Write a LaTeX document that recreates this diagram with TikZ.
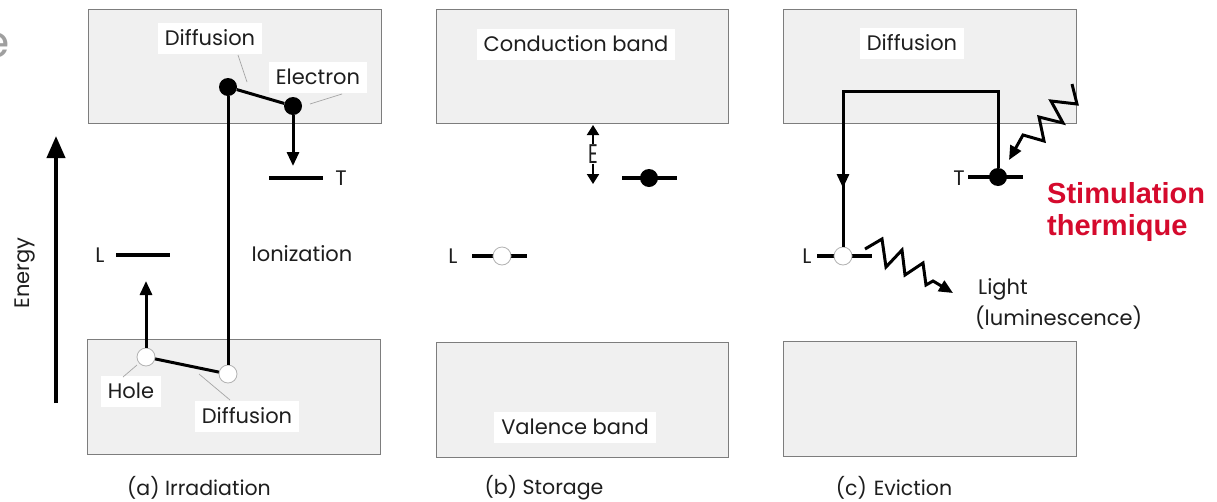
\documentclass[tikz,border=0pt]{standalone}
\usepackage{fontspec}
\setmainfont{Poppins}
\newfontfamily\redfont{Liberation Sans}
\usetikzlibrary{arrows.meta}
\definecolor{bandfill}{RGB}{240,240,240}
\definecolor{bandline}{RGB}{125,125,125}
\definecolor{txt}{RGB}{30,30,30}
\definecolor{stimred}{RGB}{213,10,45}
\begin{document}
\begin{tikzpicture}[x=1pt,y=-1pt,
  band/.style={draw=bandline, fill=bandfill, line width=1pt},
  lbl/.style={font=\fontsize{21}{25}\selectfont, text=txt, inner sep=0pt},
  captxt/.style={font=\fontsize{20.5}{24}\selectfont, text=txt, inner sep=0pt},
  wlbl/.style={lbl, fill=white, minimum height=31pt, inner xsep=7pt},
  elec/.style={circle, fill=black, minimum size=18pt, inner sep=0pt},
  hole/.style={circle, fill=white, draw=gray!60, line width=0.8pt, minimum size=18pt, inner sep=0pt},
  lvl/.style={line width=3.5pt},
  move/.style={line width=3pt},
  tip/.style={-{Triangle[length=14pt,width=12pt]}},
  smalltip/.style={-{Triangle[length=10pt,width=12pt]}},
  leader/.style={line width=0.7pt, draw=gray!70},
  wave/.style={line width=3pt, line join=miter},
  redlbl/.style={font=\redfont\bfseries\fontsize{29}{33}\selectfont, text=stimred, inner sep=0pt, anchor=base west}
]
\useasboundingbox (0,0) rectangle (1217,501);
\fill[white] (0,0) rectangle (1217,501);
% cut-off letter at the left edge
\node[anchor=east, text=gray!75, font=\fontsize{44}{44}\selectfont, inner sep=0pt] (cut) at (10,45) {e};

% ================= (a) Irradiation =================
\draw[band] (88,9) rectangle (381,123);
\draw[band] (87,339) rectangle (380,454);
\draw[line width=4pt, -{Triangle[length=22pt,width=18pt]}] (56,403) -- (56,136);
\node[lbl, rotate=90] (energy) at (25,273) {Energy};

\coordinate (TaL) at (269,178); \coordinate (TaR) at (323,178);
\draw[lvl] (TaL) -- (TaR);
\node[lbl] (Ta) at (341,178) {T};
\coordinate (LaL) at (116,255); \coordinate (LaR) at (170,255);
\draw[lvl] (LaL) -- (LaR);
\node[lbl] (La) at (100,255) {L};

\node[elec] (d1) at (228,87) {};
\node[elec] (e1) at (293,106) {};
\node[hole] (h2) at (228,374) {};
\node[hole] (h1) at (146,357) {};
\draw[move] (d1) -- (e1);
\draw[move] (d1) -- (h2);
\draw[move] (h1) -- (h2);
\coordinate (eTtip) at (293,166);
\draw[move, tip] (e1) -- (eTtip);
\coordinate (hLtip) at (146,281);
\draw[move, tip] (h1) -- (hLtip);

\node[lbl] (ion) at (302,254) {Ionization};

\node[wlbl] (difA) at (210,38) {Diffusion};
\draw[leader] (238,55) -- (247,82);
\node[wlbl] (elA) at (318,77) {Electron};
\draw[leader] (310,104) -- (342,94);
\node[wlbl] (hoA) at (131,391) {Hole};
\draw[leader] (123,377) -- (137,365);
\node[wlbl] (dibA) at (247,416) {Diffusion};
\draw[leader] (199,374) -- (230,400);

\node[captxt] (capA) at (199,488) {(a) Irradiation};

% ================= (b) Storage =================
\draw[band] (436,9) rectangle (728,123);
\draw[band] (436,342) rectangle (728,457);
\node[wlbl] (cb) at (576,44) {Conduction band};
\node[wlbl] (vb) at (575,427) {Valence band};

\node[lbl, font=\fontsize{27}{29}\selectfont] (E) at (593,154) {\scalebox{0.7}[1]{E}};
\coordinate (Etop) at (593,125); \coordinate (Ebot) at (593,184);
\draw[line width=2pt, smalltip] (E) -- (Etop);
\draw[line width=2pt, smalltip] (E) -- (Ebot);

\coordinate (TbL) at (622,178); \coordinate (TbR) at (677,178);
\draw[lvl] (TbL) -- (TbR);
\node[elec] (e2) at (649,178) {};

\coordinate (LbL) at (472,256); \coordinate (LbR) at (527,256);
\draw[lvl] (LbL) -- (LbR);
\node[hole] (h3b) at (502,256) {};
\node[lbl] (Lb) at (453,256) {L};

\node[captxt] (capB) at (544,488) {(b) Storage};

% ================= (c) Eviction =================
\draw[band] (783,9) rectangle (1076,123);
\draw[band] (783,341) rectangle (1076,456);
\node[wlbl] (difC) at (912,43) {Diffusion};

\coordinate (TcL) at (968,177); \coordinate (TcR) at (1023,177);
\draw[lvl] (TcL) -- (TcR);
\node[lbl] (Tc) at (959,178) {T};
\coordinate (LcL) at (817,256); \coordinate (LcR) at (872,256);
\draw[lvl] (LcL) -- (LcR);
\node[lbl] (Lc) at (807,256) {L};

\coordinate (cc1) at (998,91);
\coordinate (cc2) at (843,91);
\coordinate (cmid) at (843,188);
\node[elec] (e3) at (998,177) {};
\node[hole] (h3) at (843,256) {};
\draw[move, line join=miter] (e3) -- (cc1) -- (cc2) -- (h3);
\draw[move, tip] (cc2) -- (cmid);

% thermal stimulation wave
\coordinate (sw0) at (1072,84);
\coordinate (sw9) at (1009,160);
\draw[wave, tip] (sw0) -- (1077,104) -- (1051,101) -- (1063,123) -- (1039,117) -- (1044,141) -- (1023,135) -- (sw9);

% light emission wave
\coordinate (lw0) at (865,249);
\coordinate (lw9) at (953,293);
\draw[wave, tip] (lw0) -- (882,239) -- (886,267) -- (902,250) -- (905,275) -- (923,263) -- (926,285) -- (933,281) -- (lw9);

\node[lbl, anchor=west] (light) at (978,289) {Light};
\node[lbl, anchor=west] (lum) at (975,318) {(luminescence)};

\node[redlbl] (stim1) at (1047,203) {Stimulation};
\node[redlbl] (stim2) at (1047,235) {thermique};

\node[captxt] (capC) at (894,488) {(c)\hspace{7pt}Eviction};
\end{tikzpicture}
\end{document}
